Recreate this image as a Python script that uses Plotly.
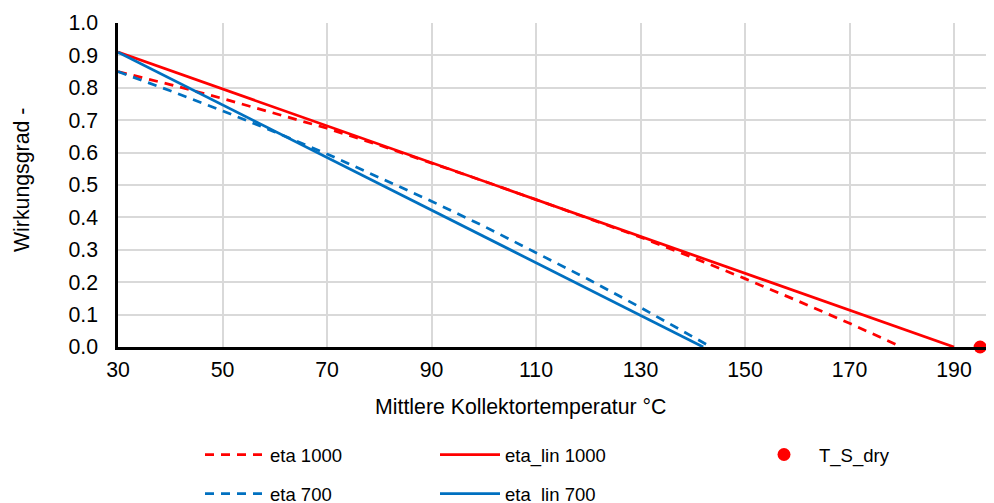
import plotly.graph_objects as go

# ---- data ----
t_eta1000 = [30, 40, 50, 60, 70, 80, 90, 100, 110, 120, 130, 140, 150, 160, 170, 180]
eta1000 = [0.850, 0.810, 0.767, 0.722, 0.675, 0.623, 0.568, 0.512, 0.455, 0.397,
           0.339, 0.276, 0.211, 0.143, 0.073, 0.000]

t_eta700 = [30, 40, 50, 60, 70, 80, 90, 100, 110, 120, 130, 140, 143.5]
eta700 = [0.850, 0.791, 0.729, 0.664, 0.596, 0.524, 0.450, 0.373, 0.292, 0.209,
          0.122, 0.032, 0.000]

t_lin1000 = [30, 190]
eta_lin1000 = [0.91, 0.0]

t_lin700 = [30, 142]
eta_lin700 = [0.91, 0.0]

t_s_dry = [195]
eta_s_dry = [0.0]

x_ticks = [30, 50, 70, 90, 110, 130, 150, 170, 190]
y_ticks = [0.0, 0.1, 0.2, 0.3, 0.4, 0.5, 0.6, 0.7, 0.8, 0.9, 1.0]
y_ticklabels = [f"{v:.1f}" for v in y_ticks]

RED = "#FF0000"
BLUE = "#0070C0"
FONT = "Liberation Sans, Arial, sans-serif"
FS_AX = 21.3   # tick labels and axis titles
FS_LEG = 18.5  # legend
W, H = 994, 503
OFF = 8  # page body offset
# plot area in page pixels
PL, PR, PT, PB = 118, 994, 23, 347

fig = go.Figure()
fig.add_trace(go.Scatter(x=t_eta1000, y=eta1000, mode="lines", name="eta 1000",
                         line=dict(color=RED, width=2.75, dash="9px,7px"),
                         legend="legend", legendgroup="a"))
fig.add_trace(go.Scatter(x=t_eta700, y=eta700, mode="lines", name="eta 700",
                         line=dict(color=BLUE, width=2.75, dash="9px,7px"),
                         legend="legend", legendgroup="b"))
fig.add_trace(go.Scatter(x=t_lin1000, y=eta_lin1000, mode="lines", name="eta_lin 1000",
                         line=dict(color=RED, width=2.75),
                         legend="legend2", legendgroup="c"))
fig.add_trace(go.Scatter(x=t_lin700, y=eta_lin700, mode="lines", name="eta_lin 700",
                         line=dict(color=BLUE, width=2.75),
                         legend="legend2", legendgroup="d"))
fig.add_trace(go.Scatter(x=t_s_dry, y=eta_s_dry, mode="markers", name="T_S_dry",
                         marker=dict(color=RED, size=13), cliponaxis=False,
                         legend="legend3", legendgroup="e"))

leg_common = dict(orientation="v", xref="container", yref="container",
                  yanchor="top", xanchor="left", bgcolor="rgba(0,0,0,0)",
                  font=dict(family=FONT, size=FS_LEG, color="#000000"),
                  tracegroupgap=12, itemwidth=60)
leg_top = 1 - 428 / H

fig.update_layout(
    width=W, height=H,
    margin=dict(l=PL - OFF, r=W - (PR - OFF), t=PT - OFF, b=H - (PB - OFF), autoexpand=False),
    plot_bgcolor="white", paper_bgcolor="white",
    font=dict(family=FONT, size=FS_AX, color="#000000"),
    xaxis=dict(range=[30, 30 + (PR - PL) / 5.225], tickvals=x_ticks,
               ticktext=[str(v) for v in x_ticks],
               tickfont=dict(family=FONT, size=FS_AX, color="#000000"),
               showgrid=True, gridcolor="#D9D9D9", gridwidth=1.5,
               showline=True, linecolor="black", linewidth=2.5,
               ticks="", zeroline=False, ticklabelstandoff=2),
    yaxis=dict(range=[0, 1], tickvals=y_ticks, ticktext=y_ticklabels,
               tickfont=dict(family=FONT, size=FS_AX, color="#000000"),
               showgrid=True, gridcolor="#D9D9D9", gridwidth=1.5,
               showline=True, linecolor="black", linewidth=2.5,
               ticks="", zeroline=False, ticklabelstandoff=13),
    legend=dict(x=192 / W, y=leg_top, **leg_common),
    legend2=dict(x=427 / W, y=leg_top, **leg_common),
    legend3=dict(x=741 / W, y=leg_top, **leg_common),
    showlegend=True,
)

fig.add_annotation(text="Mittlere Kollektortemperatur °C", xref="paper", yref="paper",
                   x=(520 - PL) / (PR - PL), y=-(407 - PB) / (PB - PT),
                   xanchor="center", yanchor="middle", showarrow=False,
                   font=dict(family=FONT, size=FS_AX, color="#000000"))
fig.add_annotation(text="Wirkungsgrad -", xref="paper", yref="paper",
                   x=-(PL - 22) / (PR - PL), y=(PB - 180) / (PB - PT),
                   xanchor="center", yanchor="middle", textangle=-90, showarrow=False,
                   font=dict(family=FONT, size=FS_AX, color="#000000"))

fig.write_html("out.html")
